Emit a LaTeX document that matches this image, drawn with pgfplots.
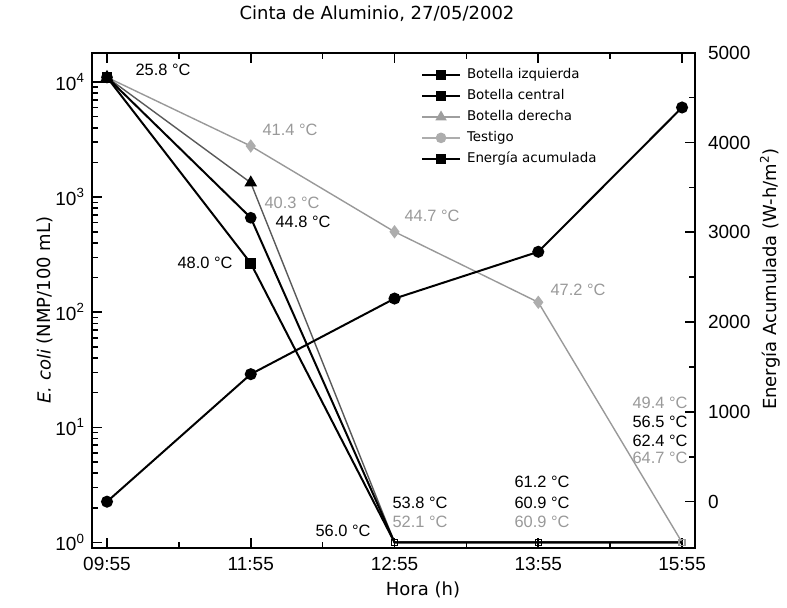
\documentclass[border=0pt]{standalone}
\usepackage{pgfplots}
\pgfplotsset{compat=1.18}
\usepackage{fontspec}
\setmainfont{DejaVu Sans}
\newfontfamily\arialf{Liberation Sans}
\definecolor{dgray}{gray}{0.35}
\definecolor{lgray}{gray}{0.6}
\definecolor{mgray}{gray}{0.62}
\begin{document}
\begin{tikzpicture}[x=1pt,y=1pt]
\useasboundingbox (0,0) rectangle (393.5,303.5);
\pgfplotsset{
  legimg/.style={legend image code/.code={%
    \draw[##1,mark repeat=2,mark phase=2] plot coordinates {(0pt,0pt) (9.5pt,0pt) (19pt,0pt)};}},
}
\begin{axis}[
  name=L,
  at={(46pt,29.5pt)}, anchor=south west,
  width=301.5pt, height=247.65pt, scale only axis,
  xmin=-0.1043, xmax=4.09,
  ymode=log, ymin=0.894, ymax=17980,
  axis line style={line width=1pt},
  tick align=inside,
  xtick pos=both, ytick pos=left,
  xtick={0,1,2,3,4},
  xticklabels={09:55,11:55,12:55,13:55,15:55},
  minor xtick={0.5,1.5,2.5,3.5},
  ytick={1,10,100,1000,10000},
  yticklabels={10\textsuperscript{0},10\textsuperscript{1},10\textsuperscript{2},10\textsuperscript{3},10\textsuperscript{4}},
  major tick length=5pt, minor tick length=3pt,
  every tick/.style={black,line width=0.8pt},
  ticklabel style={font=\arialf\fontsize{9.5}{11}\selectfont},
  xticklabel style={yshift=-1pt},
  legend style={at={(rel axis cs:0.545,0.968)}, anchor=north west, draw=none, fill=none,
    font=\fontsize{6.7}{8}\selectfont, inner sep=0pt, row sep=3.9pt,
    nodes={inner sep=0pt, text height=5pt, text depth=1.5pt},
    /tikz/every even column/.append style={column sep=0pt}},
  legend cell align=left,
]
\addlegendimage{legimg, black, line width=1pt, mark=square*, mark size=2pt}
\addlegendentry{\hspace{3pt}Botella izquierda}
\addlegendimage{legimg, black, line width=1pt, mark=square*, mark size=2pt}
\addlegendentry{\hspace{3pt}Botella central}
\addlegendimage{legimg, mgray, line width=0.7pt, mark=triangle*, mark size=2.6pt}
\addlegendentry{\hspace{3pt}Botella derecha}
\addlegendimage{legimg, lgray!80, line width=0.7pt, mark=*, mark size=2.3pt}
\addlegendentry{\hspace{3pt}Testigo}
\addlegendimage{legimg, black, line width=1pt, mark=square*, mark size=2pt}
\addlegendentry{\hspace{3pt}Energía acumulada}
% Testigo
\addplot[forget plot, lgray, line width=0.7pt, mark=diamond*, mark size=2.8pt, mark indices={1,2,3,4},
  mark options={fill=lgray!80, draw=lgray!80}] coordinates {(0,11000) (1,2780) (2,500) (3,122) (4,1)};
% Botella derecha
\addplot[forget plot, dgray, line width=0.7pt, mark=triangle*, mark size=3pt, mark indices={1,2},
  mark options={fill=black, draw=black}] coordinates {(0,11000) (1,1334) (2,1) (3,1) (4,1)};
% Botella central
\addplot[forget plot, black, line width=1pt, mark=*, mark size=2.4pt, mark indices={1,2}] coordinates {(0,11000) (1,662) (2,1) (3,1) (4,1)};
% Botella izquierda
\addplot[forget plot, black, line width=1pt, mark=square*, mark size=2.2pt, mark indices={1,2}] coordinates {(0,11000) (1,266) (2,1) (3,1) (4,1)};
% small markers where all bottles reach 1
\addplot[forget plot, only marks, mark=square, mark size=1.5pt, black, line width=0.6pt] coordinates {(2,1) (3,1) (4,1)};
\addplot[forget plot, only marks, mark=square, mark size=1.5pt, lgray, line width=0.6pt] coordinates {(4,1)};
\end{axis}
\begin{axis}[
  at={(46pt,29.5pt)}, anchor=south west,
  width=301.5pt, height=247.65pt, scale only axis,
  xmin=-0.1043, xmax=4.09,
  ymin=-516, ymax=5000,
  axis x line=none,
  axis y line*=right,
  axis line style={line width=1pt},
  tick align=inside,
  ytick={0,1000,2000,3000,4000,5000},
  minor ytick={500,1500,2500,3500,4500},
  major tick length=5pt, minor tick length=3pt,
  every tick/.style={black,line width=0.8pt},
  /pgf/number format/assume math mode=true,
  /pgf/number format/set thousands separator={},
  ticklabel style={font=\arialf\fontsize{9.5}{11}\selectfont},
  yticklabel style={xshift=3pt},
]
\addplot[black, line width=1pt, mark=*, mark size=2.5pt] coordinates {(0,0) (1,1420) (2,2262) (3,2783) (4,4390)};
\end{axis}
% titles and labels
\node[font=\fontsize{9}{11}\selectfont] at (188.5,296.5) {Cinta de Aluminio, 27/05/2002};
\node[font=\fontsize{9}{11}\selectfont] at (211.5,8.5) {Hora (h)};
\node[font=\fontsize{9}{11}\selectfont, rotate=90] at (22.5,148.5) {\textit{E. coli} (NMP/100 mL)};
\node[font=\fontsize{9}{11}\selectfont, rotate=90] at (385,164) {Energía Acumulada (W-h/m\textsuperscript{2})};
% temperature annotations
\begin{scope}[every node/.style={font=\arialf\fontsize{8.2}{10}\selectfont, inner sep=0pt}]
\node[black] at (81.5,268.5) {25.8 °C};
\node[lgray] at (145,238.5) {41.4 °C};
\node[lgray] at (146,202) {40.3 °C};
\node[black] at (151.5,192.5) {44.8 °C};
\node[black] at (102.5,172) {48.0 °C};
\node[lgray] at (216,195.5) {44.7 °C};
\node[lgray] at (289,158.5) {47.2 °C};
\node[lgray] at (330,102) {49.4 °C};
\node[black] at (330,92.5) {56.5 °C};
\node[black] at (330,83) {62.4 °C};
\node[lgray] at (330,74.5) {64.7 °C};
\node[black] at (271,62.5) {61.2 °C};
\node[black] at (271,52) {60.9 °C};
\node[lgray] at (271,42.5) {60.9 °C};
\node[black] at (210,52) {53.8 °C};
\node[lgray] at (210,42.5) {52.1 °C};
\node[black] at (171.5,38) {56.0 °C};
\end{scope}
\end{tikzpicture}
\end{document}
